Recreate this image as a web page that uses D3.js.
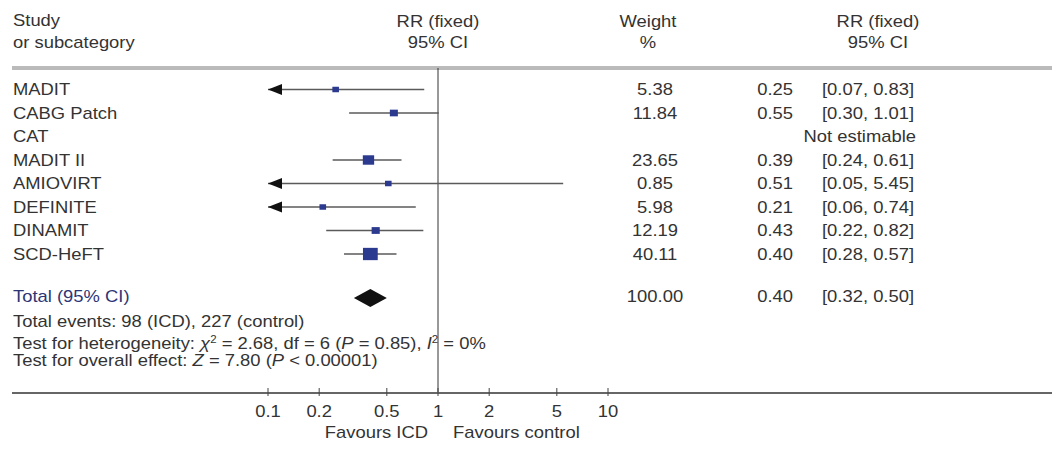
<!DOCTYPE html>
<html>
<head>
<meta charset="utf-8">
<script src="https://cdn.jsdelivr.net/npm/d3@7"></script>
<style>
  html, body { margin: 0; padding: 0; background: #fff; }
  svg { display: block; font-family: "Liberation Sans", Arial, sans-serif; }
</style>
</head>
<body>
<svg id="chart" width="1056" height="450"></svg>
<script>
// Trials of ICD versus control: relative risk, fixed effect
const studies = ["MADIT", "CABG Patch", "CAT", "MADIT II", "AMIOVIRT", "DEFINITE", "DINAMIT", "SCD-HeFT"];
const weights = [5.38, 11.84, null, 23.65, 0.85, 5.98, 12.19, 40.11];
const rr      = [0.25, 0.55, null, 0.39, 0.51, 0.21, 0.43, 0.40];
const ciLow   = [0.07, 0.30, null, 0.24, 0.05, 0.06, 0.22, 0.28];
const ciHigh  = [0.83, 1.01, null, 0.61, 5.45, 0.74, 0.82, 0.57];

const totalWeight = 100.00;
const totalRR = 0.40;
const totalLow = 0.32;
const totalHigh = 0.50;

const tickValues = [0.1, 0.2, 0.5, 1, 2, 5, 10];
const tickLabels = ["0.1", "0.2", "0.5", "1", "2", "5", "10"];

const svg = d3.select("#chart");
const ink = "#333";
const boxColor = "#2b3a8f";
const SX = 1.15; // horizontal stretch of the typeface

const x = d3.scaleLog().domain([0.1, 10]).range([268, 608]);
const y = d3.scalePoint().domain(studies).range([89.5, 254]);
const side = d3.scaleSqrt().domain([0, 40.11]).range([0, 12.3]);

const yTotal = 298;
const yAxis = 393;
const f2 = d3.format(".2f");

// text helper: parts is a string or list of [text, italic, superscript]
function label(xp, yp, parts, anchor, color) {
  const t = svg.append("text")
    .attr("transform", `translate(${xp},${yp}) scale(${SX},1)`)
    .attr("dy", "0.35em")
    .attr("font-size", 16)
    .attr("fill", color || ink)
    .attr("text-anchor", anchor || "start");
  if (typeof parts === "string") parts = [[parts]];
  parts.forEach(([s, it, sup]) => {
    const sp = t.append("tspan").text(s);
    if (it) sp.attr("font-style", "italic");
    if (sup) sp.attr("font-size", 10).attr("baseline-shift", "super");
  });
  return t;
}

// header
label(13, 20, "Study");
label(13, 42, "or subcategory");
label(438, 21, "RR (fixed)", "middle");
label(438, 42, "95% CI", "middle");
label(648, 21, "Weight", "middle");
label(648, 42, "%", "middle");
label(878, 21, "RR (fixed)", "middle");
label(878, 42, "95% CI", "middle");

// rules
svg.append("line").attr("x1", 12).attr("x2", 1052).attr("y1", 67).attr("y2", 67)
  .attr("stroke", "#777").attr("stroke-width", 1);
svg.append("line").attr("x1", 12).attr("x2", 1052).attr("y1", 69).attr("y2", 69)
  .attr("stroke", "#777").attr("stroke-width", 1);

// line of no effect
svg.append("line").attr("x1", x(1)).attr("x2", x(1)).attr("y1", 68).attr("y2", yAxis)
  .attr("stroke", "#333").attr("stroke-width", 1);

// study rows
studies.forEach((s, i) => {
  const yy = y(s);
  label(13, yy, s);
  if (rr[i] == null) {
    label(916, yy, "Not estimable", "end");
    return;
  }
  const lo = Math.max(ciLow[i], 0.1), hi = Math.min(ciHigh[i], 10);
  svg.append("line").attr("x1", x(lo)).attr("x2", x(hi)).attr("y1", yy).attr("y2", yy)
    .attr("stroke", "#5a5a5a").attr("stroke-width", 1.6);
  if (ciLow[i] < 0.1) {
    const tip = x(0.1);
    svg.append("path")
      .attr("d", `M${tip},${yy} L${tip + 14},${yy - 5.5} L${tip + 14},${yy + 5.5} Z`)
      .attr("fill", "#111");
  }
  if (ciHigh[i] > 10) {
    const tip = x(10);
    svg.append("path")
      .attr("d", `M${tip},${yy} L${tip - 14},${yy - 5.5} L${tip - 14},${yy + 5.5} Z`)
      .attr("fill", "#111");
  }
  const h = Math.max(5.5, side(weights[i]));
  const w = h * 1.2;
  svg.append("rect")
    .attr("x", x(rr[i]) - w / 2).attr("y", yy - h / 2)
    .attr("width", w).attr("height", h)
    .attr("fill", boxColor);

  label(655, yy, f2(weights[i]), "middle");
  label(793, yy, f2(rr[i]), "end");
  label(822, yy, `[${f2(ciLow[i])}, ${f2(ciHigh[i])}]`);
});

// pooled estimate
label(13, yTotal - 2, "Total (95% CI)", "start", "#2c3575");
svg.append("path")
  .attr("d", `M${x(totalLow)},${yTotal} L${x(totalRR)},${yTotal - 9} L${x(totalHigh)},${yTotal} L${x(totalRR)},${yTotal + 9} Z`)
  .attr("fill", "#111");
label(655, yTotal - 2, f2(totalWeight), "middle");
label(793, yTotal - 2, f2(totalRR), "end");
label(822, yTotal - 2, `[${f2(totalLow)}, ${f2(totalHigh)}]`);

label(13, 321, "Total events: 98 (ICD), 227 (control)");
label(13, 343, [["Test for heterogeneity: "], ["χ", true], ["2", false, true], [" = 2.68, df = 6 ("], ["P", true], [" = 0.85), "], ["I", true], ["2", false, true], [" = 0%"]]);
label(13, 360, [["Test for overall effect: "], ["Z", true], [" = 7.80 ("], ["P", true], [" < 0.00001)"]]);

// axis
svg.append("line").attr("x1", 12).attr("x2", 1052).attr("y1", yAxis).attr("y2", yAxis)
  .attr("stroke", "#666").attr("stroke-width", 2);
tickValues.forEach((v, i) => {
  svg.append("line").attr("x1", x(v)).attr("x2", x(v)).attr("y1", yAxis - 5).attr("y2", yAxis + 3)
    .attr("stroke", "#444").attr("stroke-width", 1);
  label(x(v), 411, tickLabels[i], "middle");
});
label(x(1) - 10, 432, "Favours ICD", "end");
label(x(1) + 15, 432, "Favours control", "start");
</script>
</body>
</html>
